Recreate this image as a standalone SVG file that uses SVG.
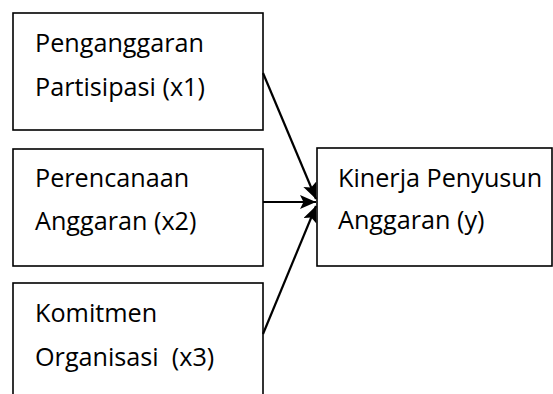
<svg xmlns="http://www.w3.org/2000/svg" width="553" height="394" viewBox="0 0 553 394">
<style>
.box{fill:#fff;stroke:#000;stroke-width:1.6}
.t{font-family:"Open Sans","Noto Sans",sans-serif;font-size:25.2px;fill:#000}
.c{stroke:#000;stroke-width:2.2;fill:none}
</style>
<defs>
<marker id="ah" markerUnits="userSpaceOnUse" markerWidth="18" markerHeight="16" refX="16" refY="7" orient="auto">
<path d="M0,0 L16,7 L0,14 L3.5,7 Z" fill="#000"/>
</marker>
</defs>
<rect width="553" height="394" fill="#fff"/>
<g id="x1">
<rect class="box" x="13" y="13" width="250" height="117"/>
<text class="t" x="35" y="52">Penganggaran</text>
<text class="t" x="35" y="96">Partisipasi (x1)</text>
</g>
<g id="x2">
<rect class="box" x="13" y="149" width="250" height="117"/>
<text class="t" x="35" y="187">Perencanaan</text>
<text class="t" x="35" y="230">Anggaran (x2)</text>
</g>
<g id="x3">
<rect class="box" x="13" y="283" width="250" height="130"/>
<text class="t" x="35" y="322">Komitmen</text>
<text class="t" x="35" y="366" xml:space="preserve">Organisasi  (x3)</text>
</g>
<g id="y">
<rect class="box" x="317" y="148" width="235" height="118"/>
<text class="t" x="338" y="187">Kinerja Penyusun</text>
<text class="t" x="338" y="229">Anggaran (y)</text>
</g>
<g id="connectors">
<line class="c" x1="263" y1="73" x2="316" y2="199" marker-end="url(#ah)"/>
<line class="c" x1="263" y1="202" x2="316" y2="202" marker-end="url(#ah)"/>
<line class="c" x1="263" y1="334" x2="316" y2="206" marker-end="url(#ah)"/>
</g>
</svg>
